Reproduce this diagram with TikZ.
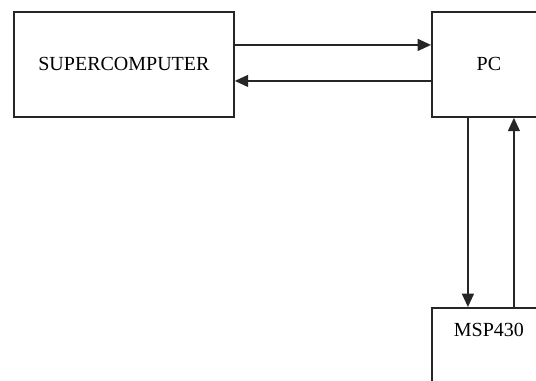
\documentclass[tikz,border=0pt]{standalone}
\usepackage{fontspec}
\setmainfont{Liberation Serif}
\usetikzlibrary{arrows.meta,calc,positioning}
\colorlet{linecol}{black!85}

\begin{document}
\begin{tikzpicture}[x=0.75pt, y=-0.75pt, >={Triangle[length=10pt,width=9pt]}, line width=1.1pt]
\tikzstyle{box}=[draw=black!85, line width=1.4pt, rectangle, anchor=north west, inner sep=0pt, font=\fontsize{15}{18}\selectfont]
\useasboundingbox (0,0) rectangle (536,381);
\clip (0,0) rectangle (536,381);
% blocks
\node[box, minimum width=165pt, minimum height=78.75pt] (sc)  at (13,11)  {SUPERCOMPUTER};
\node[box, minimum width=85.5pt, minimum height=78.75pt] (pc)  at (431,11) {PC};
\node[box, minimum width=85.5pt, minimum height=78.75pt,
      label={[anchor=north, inner sep=0pt, yshift=-11.25pt, font=\fontsize{15}{18}\selectfont]north:MSP430}] (msp) at (431,307) {};
% links
\draw[->, linecol] ($(sc.east)+(0,-19.5)$) -- ($(pc.west)+(0,-19.5)$);
\draw[->, linecol] ($(pc.west)+(0,16.5)$) -- ($(sc.east)+(0,16.5)$);
\draw[->, linecol] ($(pc.south)+(-21,0)$) -- ($(msp.north)+(-21,0)$);
\draw[->, linecol] ($(msp.north)+(25,0)$) -- ($(pc.south)+(25,0)$);
\end{tikzpicture}
\end{document}
